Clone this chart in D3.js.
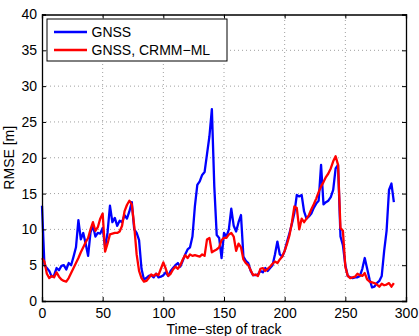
<!DOCTYPE html>
<html>
<head>
<meta charset="utf-8">
<script src="https://cdn.jsdelivr.net/npm/d3@7"></script>
<style>
  body { margin: 0; background: #fff; }
  svg text { font-family: "Liberation Sans", Arial, Helvetica, sans-serif; fill: #000; }
</style>
</head>
<body>
<div id="chart"></div>
<script>
// time steps (every 2nd step of the track)
var steps = d3.range(0, 291, 2);

// RMSE [m] of plain GNSS
var gnssRmse = [
  13.3, 5.0, 4.6, 4.2, 3.4, 3.6, 4.6, 4.3, 4.9, 5.0,
  4.4, 5.3, 5.0, 6.2, 7.5, 11.3, 8.6, 9.5, 8.0, 6.3,
  9.6, 10.5, 9.0, 9.5, 9.4, 10.2, 7.5, 9.5, 13.3, 11.0,
  11.6, 10.5, 11.2, 11.0, 12.0, 11.5, 12.5, 13.8, 10.0, 9.5,
  8.5, 4.5, 3.0, 3.2, 3.5, 3.6, 3.3, 3.8, 3.3, 3.4,
  3.6, 4.0, 3.5, 4.2, 4.6, 5.0, 5.3, 4.8, 5.6, 6.5,
  7.2, 7.5, 9.0, 13.2, 16.2, 16.7, 17.6, 18.0, 20.5, 23.0,
  26.8, 16.0, 9.2, 8.8, 6.0, 9.5, 9.0, 10.0, 12.9, 10.5,
  9.7, 11.0, 12.0, 6.2, 5.6, 5.3, 4.2, 3.6, 3.6, 3.7,
  4.2, 4.0, 4.6, 4.2, 4.6, 5.0, 6.5, 8.3, 6.5, 6.2,
  7.0, 8.3, 9.5, 10.8, 12.3, 14.8, 14.6, 14.8, 12.5, 11.5,
  11.8, 12.2, 13.0, 13.6, 14.0, 19.0, 13.5, 13.8, 14.0, 14.5,
  15.5, 18.5, 19.0, 9.0, 7.8, 5.0, 3.5, 3.3, 3.2, 3.3,
  3.3, 3.5, 4.5, 6.0, 4.5, 3.0, 1.9, 2.0, 2.5, 2.8,
  3.5, 7.0, 9.8, 15.5, 16.4, 13.8
];

// RMSE [m] of GNSS with CRMM-ML
var crmmRmse = [
  6.0, 5.5, 3.8, 3.2, 3.5, 3.3, 4.0, 3.4, 3.0, 2.8,
  2.7, 3.2, 3.9, 4.6, 5.3, 6.0, 6.8, 7.5, 8.2, 8.8,
  10.0, 11.0, 9.8, 10.3, 11.5, 12.2, 6.9, 8.0, 9.3, 9.4,
  9.5, 9.5, 9.7, 10.5, 12.5, 13.4, 14.0, 13.5, 10.5, 6.5,
  4.2, 3.2, 2.7, 2.8, 3.2, 3.7, 3.5, 3.8, 3.6, 4.5,
  5.4, 4.5, 3.5, 3.8, 4.4, 4.8, 4.5, 5.0, 5.8, 6.4,
  6.0, 6.5, 6.3, 6.4, 6.3, 6.2, 6.5, 6.3, 8.6, 8.8,
  6.8, 7.0, 7.2, 7.5, 8.5, 8.8, 8.8, 9.3, 9.5, 9.0,
  7.0, 8.0, 7.5, 5.8, 5.3, 5.0, 4.3, 3.6, 3.7, 3.5,
  4.5, 4.6, 4.2, 4.5, 4.8, 5.2, 5.5, 5.3, 5.8, 6.2,
  7.0, 8.0, 9.2, 11.0, 13.2, 13.0, 10.0, 11.5, 11.0, 11.5,
  12.0, 12.8, 13.5, 14.3, 15.2, 16.0, 16.6, 17.3, 17.8, 18.5,
  19.5, 20.2, 19.0, 10.2, 9.8, 4.8, 3.5, 3.2, 3.3, 3.4,
  3.8, 3.6, 3.5, 3.9, 3.0, 2.7, 2.6, 2.5, 2.3, 2.0,
  2.4, 2.2, 2.3, 2.5, 2.0, 2.5
];

var seriesNames = ["GNSS", "GNSS, CRMM\u2212ML"];
var seriesColors = ["#0000ff", "#ff0000"];
var xTicks = [0, 50, 100, 150, 200, 250, 300];
var yTicks = [0, 5, 10, 15, 20, 25, 30, 35, 40];

var width = 419, height = 336;
var margin = {top: 14.5, right: 13, bottom: 35, left: 42};

var svg = d3.select("#chart").append("svg")
    .attr("width", width)
    .attr("height", height);

var x = d3.scaleLinear().domain([0, 300]).range([margin.left, width - margin.right]);
var y = d3.scaleLinear().domain([0, 40]).range([height - margin.bottom, margin.top]);

var x0 = x.range()[0], x1 = x.range()[1];
var y0 = y.range()[0], y1 = y.range()[1];

// dotted grid
svg.append("g").selectAll("line").data(xTicks.slice(1, -1)).enter().append("line")
    .attr("x1", function(d){ return x(d); }).attr("x2", function(d){ return x(d); })
    .attr("y1", y0).attr("y2", y1)
    .attr("stroke", "#a0a0a0").attr("stroke-width", 1).attr("stroke-dasharray", "1,3");
svg.append("g").selectAll("line").data(yTicks.slice(1, -1)).enter().append("line")
    .attr("y1", function(d){ return y(d); }).attr("y2", function(d){ return y(d); })
    .attr("x1", x0).attr("x2", x1)
    .attr("stroke", "#a0a0a0").attr("stroke-width", 1).attr("stroke-dasharray", "1,3");

// data lines
var series = [gnssRmse, crmmRmse];
var line = d3.line()
    .x(function(d, i){ return x(steps[i]); })
    .y(function(d){ return y(d); });

series.forEach(function(vals, k){
    svg.append("path")
        .datum(vals)
        .attr("d", line)
        .attr("fill", "none")
        .attr("stroke", seriesColors[k])
        .attr("stroke-width", 2.3)
        .attr("stroke-linejoin", "round");
});

// axes: ticks point inward, on all four sides
var tickLen = 4;
svg.append("g").attr("transform", "translate(0," + y0 + ")")
    .call(d3.axisBottom(x).tickValues(xTicks).tickSize(-tickLen).tickPadding(7).tickFormat(d3.format("d")));
svg.append("g").attr("transform", "translate(0," + y1 + ")")
    .call(d3.axisTop(x).tickValues(xTicks).tickSize(-tickLen).tickFormat(""));
svg.append("g").attr("transform", "translate(" + x0 + ",0)")
    .call(d3.axisLeft(y).tickValues(yTicks).tickSize(-tickLen).tickPadding(5).tickFormat(d3.format("d")));
svg.append("g").attr("transform", "translate(" + x1 + ",0)")
    .call(d3.axisRight(y).tickValues(yTicks).tickSize(-tickLen).tickFormat(""));

svg.selectAll(".domain").attr("stroke", "#000").attr("stroke-width", 1.3);
svg.selectAll(".tick line").attr("stroke", "#000");
svg.selectAll(".tick text").style("font-size", "14px").attr("fill", "#000");

// axis labels
svg.append("text")
    .attr("x", (x0 + x1) / 2)
    .attr("y", 334)
    .attr("text-anchor", "middle")
    .style("font-size", "14px")
    .text("Time\u2212step of track");

svg.append("text")
    .attr("transform", "translate(13.5," + ((y0 + y1) / 2) + ") rotate(-90)")
    .attr("text-anchor", "middle")
    .style("font-size", "14px")
    .text("RMSE [m]");

// legend
var legend = svg.append("g");
legend.append("rect")
    .attr("x", 47).attr("y", 19)
    .attr("width", 180).attr("height", 42)
    .attr("fill", "#fff").attr("stroke", "#000").attr("stroke-width", 1);

seriesNames.forEach(function(name, k){
    var ly = 32 + k * 18;
    legend.append("line")
        .attr("x1", 54).attr("x2", 87)
        .attr("y1", ly).attr("y2", ly)
        .attr("stroke", seriesColors[k]).attr("stroke-width", 2.3);
    legend.append("text")
        .attr("x", 91.5).attr("y", ly + 5)
        .style("font-size", "14px")
        .text(name);
});
</script>
</body>
</html>
